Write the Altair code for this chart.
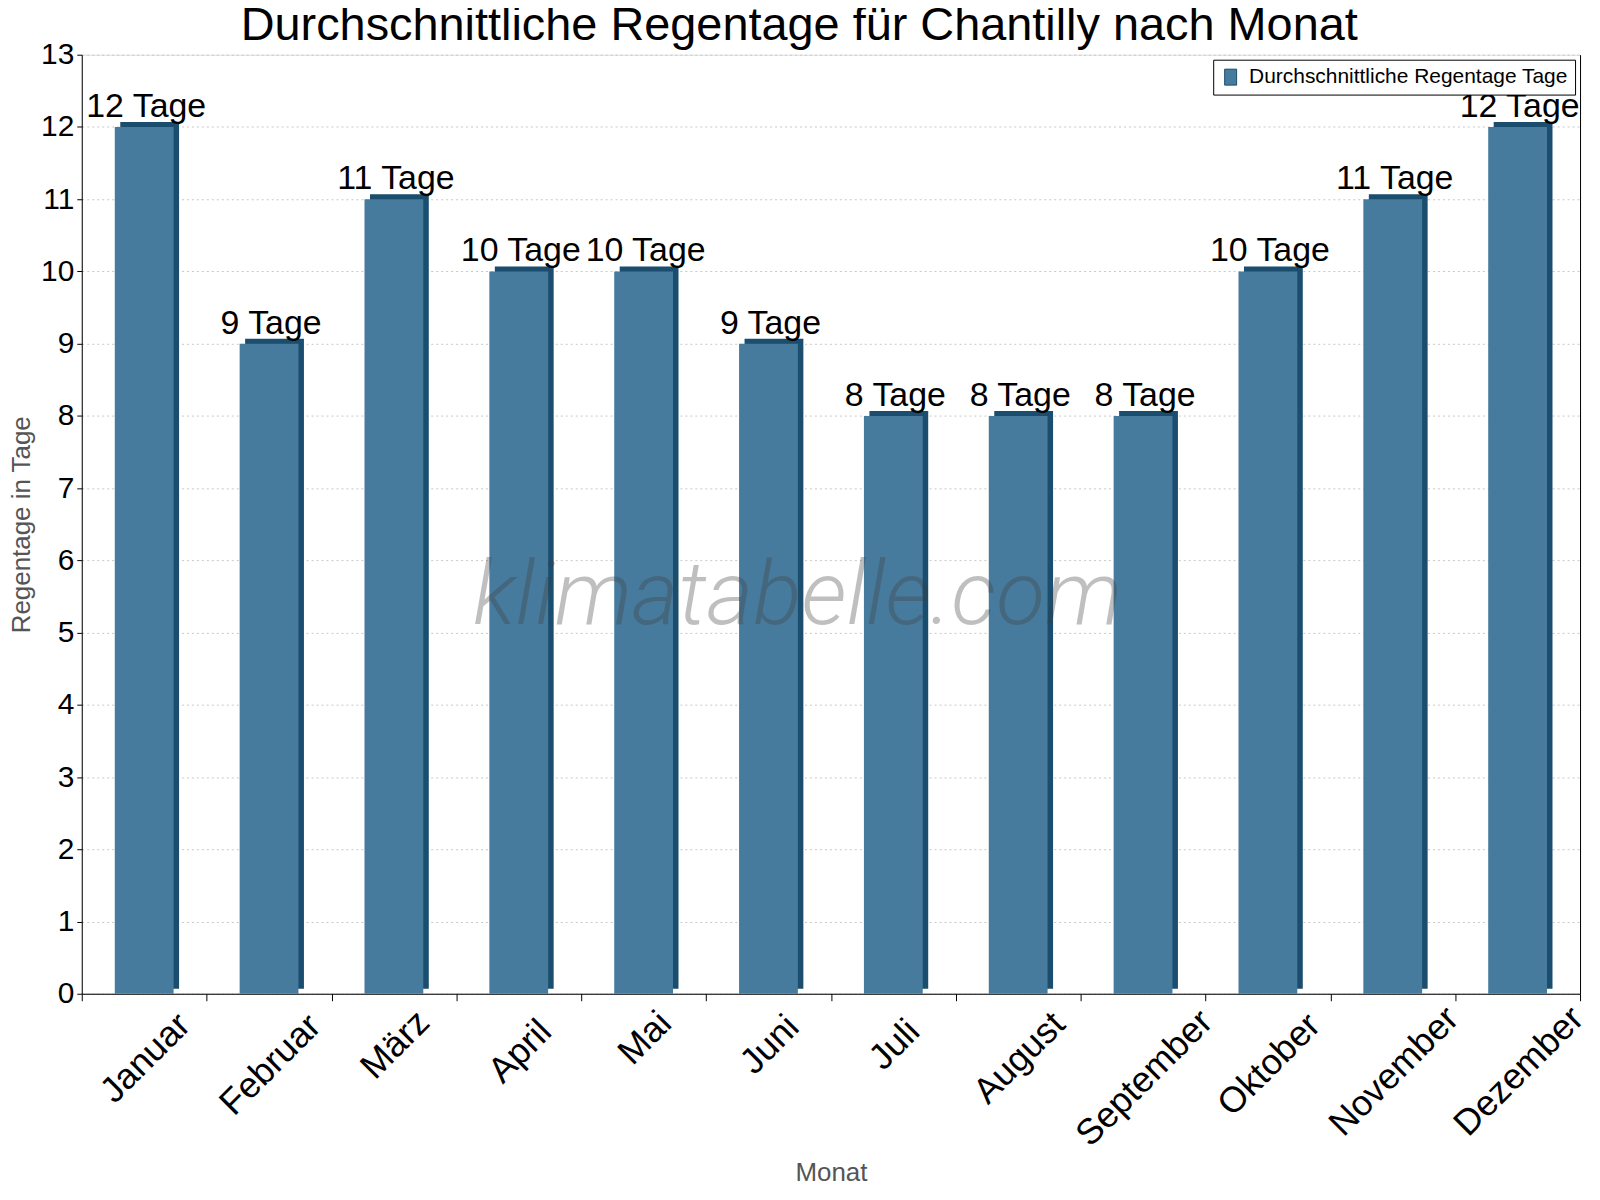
import altair as alt
import pandas as pd

months = ["Januar", "Februar", "März", "April", "Mai", "Juni", "Juli",
          "August", "September", "Oktober", "November", "Dezember"]
rain_days = [12, 9, 11, 10, 10, 9, 8, 8, 8, 10, 11, 12]
value_labels = [f"{v} Tage" for v in rain_days]
series_name = "Durchschnittliche Regentage Tage"
y_ticks = list(range(0, 14))

FRONT = "#467b9e"
DARK = "#1a4d6e"
FONT = "Liberation Sans"

df = pd.DataFrame({
    "Monat": months,
    "Tage": rain_days,
    "Label": value_labels,
    "Serie": [series_name] * len(months),
})

x_axis = alt.Axis(
    title="Monat", labelAngle=-45, labelAlign="center", labelBaseline="middle",
    labelOffset=1, labelPadding=alt.ExprRef(expr="17 + 6.7*length(datum.label)"),
    tickSize=7, tickBand="extent",
    labelFontSize=36, labelFont=FONT, labelColor="black", labelOverlap=False,
    labelBound=False, labelFlush=False,
    domainColor="black", tickColor="black",
    titleFontSize=26, titleFont=FONT, titleColor="#555555", titleFontWeight="normal",
    titleY=192, titleBaseline="bottom",
)
x_enc = alt.X("Monat:N", sort=months,
              scale=alt.Scale(paddingInner=0, paddingOuter=0), axis=x_axis)

y_scale = alt.Scale(domain=[0, 13], nice=False)
y_left = alt.Axis(
    title="Regentage in Tage", values=y_ticks, labelFontSize=30, labelFont=FONT,
    labelColor="black", labelPadding=3, tickSize=5, tickColor="black",
    domainColor="black", grid=True, gridColor="#c8c8c8", gridDash=[2, 3],
    titleFontSize=26, titleFont=FONT, titleColor="#555555",
    titleFontWeight="normal", titlePadding=6,
)
y_right = alt.Axis(orient="right", labels=False, ticks=False, grid=False,
                   title=None, domainColor="black")

base = alt.Chart(df)

back = base.mark_bar(size=59, color=DARK, xOffset=5.5, x2Offset=5.5,
                     yOffset=-5, y2Offset=-5).encode(
    x=x_enc,
    y=alt.Y("Tage:Q", scale=y_scale, axis=None),
)

front = base.mark_bar(size=59).encode(
    x=x_enc,
    y=alt.Y("Tage:Q", scale=y_scale, axis=y_left),
    color=alt.Color(
        "Serie:N",
        scale=alt.Scale(domain=[series_name], range=[FRONT]),
        legend=alt.Legend(
            title=None, orient="top-right", offset=5, strokeColor="black",
            fillColor="white", padding=7, labelFontSize=21, labelFont=FONT,
            labelColor="black",
            symbolType="M-0.75,-1L0.75,-1L0.75,1L-0.75,1Z", symbolSize=256,
            symbolStrokeColor=DARK, symbolStrokeWidth=1, labelOffset=8,
            cornerRadius=0, labelLimit=600,
        ),
    ),
)

texts = base.mark_text(baseline="alphabetic", dy=-10, dx=2, fontSize=34,
                       font=FONT, color="black").encode(
    x=x_enc,
    y=alt.Y("Tage:Q", scale=y_scale, axis=y_right),
    text="Label:N",
)

watermark = alt.Chart(pd.DataFrame({"w": ["klimatabelle.com"]})).mark_text(
    font="Roboto", fontStyle="italic", fontWeight=300, fontSize=90,
    color="#404040", opacity=0.33, align="center", baseline="alphabetic",
).encode(text="w:N", x=alt.value(718), y=alt.value(571))

chart = alt.layer(back, front, texts, watermark).resolve_axis(
    y="independent"
).properties(
    width=1503, height=942,
    autosize=alt.AutoSizeParams(type="none"),
    padding={"left": 74, "top": 45, "right": 12, "bottom": 193},
    title=alt.TitleParams(
        "Durchschnittliche Regentage für Chantilly nach Monat",
        fontSize=47, font=FONT, fontWeight="normal", color="black",
        anchor="middle", frame="bounds", offset=8, dy=18,
    ),
).configure_view(stroke=None).configure(background="white")

chart.save("out.html", embed_options={"renderer": "svg", "actions": False})
